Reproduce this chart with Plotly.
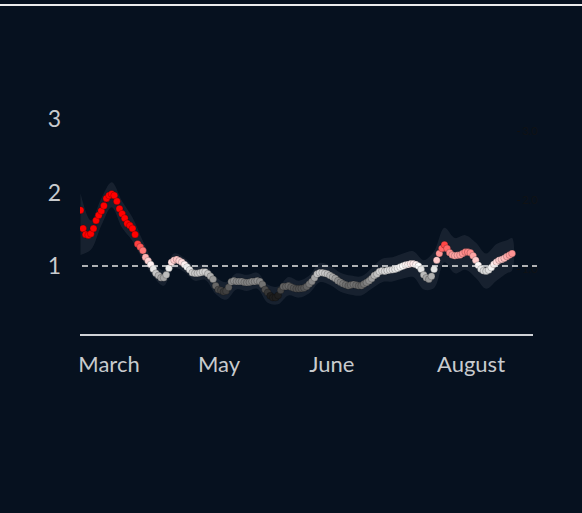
import plotly.graph_objects as go

# Daily reproduction-number estimates (day index from the start of the series)
rt_values = [
    1.76, 1.51, 1.43, 1.42, 1.44, 1.51, 1.62, 1.69, 1.75, 1.82,
    1.92, 1.96, 1.98, 1.96, 1.88, 1.78, 1.71, 1.65, 1.58, 1.55,
    1.51, 1.43, 1.30, 1.26, 1.21, 1.12, 1.07, 1.02, 0.96, 0.90,
    0.87, 0.84, 0.84, 0.88, 0.97, 1.05, 1.08, 1.09, 1.07, 1.05,
    1.02, 0.985, 0.95, 0.91, 0.90, 0.90, 0.91, 0.92, 0.92, 0.895,
    0.86, 0.82, 0.73, 0.68, 0.67, 0.65, 0.66, 0.71, 0.785, 0.80,
    0.79, 0.79, 0.79, 0.78, 0.775, 0.78, 0.79, 0.79, 0.80, 0.79,
    0.75, 0.68, 0.64, 0.595, 0.57, 0.57, 0.60, 0.67, 0.72, 0.72,
    0.73, 0.715, 0.70, 0.69, 0.69, 0.695, 0.70, 0.72, 0.755, 0.79,
    0.84, 0.89, 0.91, 0.91, 0.90, 0.89, 0.87, 0.85, 0.83, 0.80,
    0.78, 0.76, 0.745, 0.73, 0.74, 0.75, 0.74, 0.73, 0.73, 0.755,
    0.775, 0.80, 0.83, 0.87, 0.89, 0.925, 0.935, 0.93, 0.94, 0.945,
    0.95, 0.955, 0.97, 0.985, 1.00, 1.015, 1.02, 1.03, 1.03, 1.02,
    1.00, 0.955, 0.88, 0.84, 0.82, 0.86, 0.955, 1.08, 1.17, 1.24,
    1.29, 1.24, 1.18, 1.15, 1.14, 1.145, 1.15, 1.17, 1.19, 1.19,
    1.18, 1.14, 1.08, 1.01, 0.96, 0.935, 0.93, 0.945, 0.98, 1.025,
    1.055, 1.08, 1.09, 1.105, 1.13, 1.15, 1.17,
]
days = list(range(len(rt_values)))

# Credible interval, sampled every few days
band_days = [0, 4, 8, 12, 16, 20, 24, 28, 32, 36, 40, 44, 48, 52, 56, 60,
             64, 68, 72, 76, 80, 84, 88, 92, 96, 100, 104, 108, 112, 116,
             120, 124, 128, 132, 136, 140, 144, 148, 152, 156, 160, 164, 166]
band_high = [1.99, 1.62, 1.92, 2.14, 1.88, 1.66, 1.34, 1.06, 0.94, 1.17,
             1.11, 1.00, 1.02, 0.85, 0.78, 0.90, 0.88, 0.91, 0.75, 0.72,
             0.85, 0.80, 0.87, 1.04, 1.00, 0.91, 0.87, 0.86, 0.97, 1.10,
             1.12, 1.17, 1.20, 1.08, 1.20, 1.52, 1.38, 1.42, 1.32, 1.17,
             1.30, 1.35, 1.38]
band_low = [1.15, 1.22, 1.55, 1.80, 1.52, 1.34, 1.08, 0.86, 0.73, 0.97,
            0.92, 0.80, 0.81, 0.62, 0.54, 0.68, 0.66, 0.69, 0.50, 0.48,
            0.60, 0.57, 0.63, 0.78, 0.74, 0.65, 0.61, 0.60, 0.69, 0.78,
            0.79, 0.83, 0.85, 0.68, 0.70, 1.05, 0.90, 0.95, 0.84, 0.69,
            0.80, 0.90, 0.94]

month_ticks = [10.96, 53.27, 96.7, 150.2]
month_labels = ["March", "May", "June", "August"]
left_ticks = [1, 2, 3]
right_ticks = [1.0, 2.0, 3.0]

BG = "#06111f"
LABEL = "#c8cbce"

fig = go.Figure()

fig.add_trace(go.Scatter(
    x=band_days + band_days[::-1],
    y=band_high + band_low[::-1],
    fill="toself", fillcolor="rgba(200,205,215,0.09)",
    line=dict(width=0, shape="spline", smoothing=1.0),
    mode="lines", hoverinfo="skip", showlegend=False,
))

fig.add_trace(go.Scatter(
    x=days, y=rt_values, mode="markers",
    marker=dict(
        size=7, color=rt_values, cmin=0.6, cmax=1.4,
        colorscale=[[0, "#1e1e1e"], [0.5, "#ffffff"], [1, "#ff0000"]],
        line=dict(width=0.6, color="rgba(0,0,0,0.35)"),
    ),
    showlegend=False,
))

# Invisible trace that carries the secondary (right) axis
fig.add_trace(go.Scatter(x=[days[0]], y=[1.0], yaxis="y2", mode="markers",
                         marker=dict(opacity=0), hoverinfo="skip",
                         showlegend=False))

fig.add_shape(type="line", xref="paper", yref="y", x0=0.0044, x1=1.0088,
              y0=1, y1=1, line=dict(color="#e6e6e6", width=1.5, dash="6px,4px"))
fig.add_shape(type="line", xref="paper", yref="paper", x0=-0.2, x1=1.2,
              y0=1.2007, y1=1.2007, line=dict(color="#ececec", width=2))

fig.update_layout(
    width=582, height=513,
    margin=dict(l=80, r=49, t=60, b=179),
    paper_bgcolor=BG, plot_bgcolor=BG,
    font=dict(family="Lato", color=LABEL),
    xaxis=dict(
        range=[-0.19, 174.04], showgrid=False, zeroline=False,
        showline=True, linecolor="#cfd2d6", linewidth=1.5,
        tickmode="array", tickvals=month_ticks, ticktext=month_labels,
        ticks="", tickfont=dict(size=22, color=LABEL),
        ticklabelstandoff=10,
    ),
    yaxis=dict(
        range=[0.075, 3.803], showgrid=False, zeroline=False,
        showline=False, tickmode="array", tickvals=left_ticks,
        ticks="", tickfont=dict(size=23, color=LABEL),
        ticklabelstandoff=18,
    ),
    yaxis2=dict(
        range=[0.058, 4.029], overlaying="y", anchor="free", side="right",
        position=0.9625, showgrid=False, zeroline=False, showline=False,
        tickmode="array", tickvals=right_ticks,
        ticktext=[f"{v:.1f}" for v in right_ticks],
        ticks="outside", ticklen=3, tickcolor="#101010", tickwidth=1,
        tickfont=dict(size=11, color="#101214"),
    ),
)

fig.write_html("out.html")
